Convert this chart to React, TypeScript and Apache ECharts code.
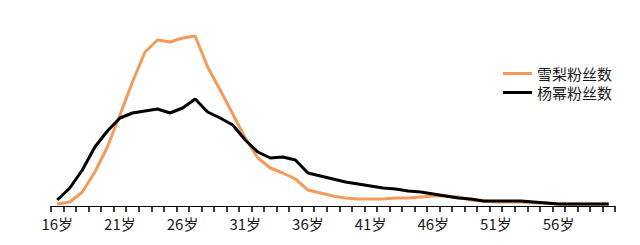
import React, { useEffect, useRef } from "react";
import * as echarts from "echarts";

const ages: string[] = [];
for (let a = 16; a <= 60; a++) ages.push(a + "岁");

const seriesNames = ["雪梨粉丝数", "杨幂粉丝数"];

const xueliFans = [
  0.2, 0.4, 1.4, 3.4, 5.9, 9.1, 12.4, 15.4, 16.6, 16.4,
  16.8, 17.0, 13.9, 11.6, 9.2, 6.8, 4.8, 3.8, 3.3, 2.7,
  1.6, 1.3, 1.0, 0.8, 0.7, 0.7, 0.7, 0.8, 0.8, 0.9,
  1.0, 1.0, 0.9, 0.6, 0.5, 0.4, 0.4, 0.4, 0.3, 0.3,
  0.2, 0.2, 0.2, 0.2, 0.2,
];

const yangmiFans = [
  0.6, 1.8, 3.6, 5.9, 7.5, 8.8, 9.3, 9.5, 9.7, 9.3,
  9.8, 10.7, 9.4, 8.8, 8.1, 6.6, 5.4, 4.8, 4.9, 4.6,
  3.3, 3.0, 2.7, 2.4, 2.2, 2.0, 1.8, 1.7, 1.5, 1.4,
  1.2, 1.0, 0.8, 0.7, 0.5, 0.5, 0.5, 0.5, 0.4, 0.3,
  0.2, 0.2, 0.2, 0.2, 0.2,
];

const FONT = "'Noto Sans CJK SC', 'Noto Sans', sans-serif";

export default function App() {
  const ref = useRef<HTMLDivElement>(null);
  useEffect(() => {
    if (!ref.current) return;
    const chart = echarts.init(ref.current, undefined, { renderer: "svg" });
    chart.setOption({
      animation: false,
      backgroundColor: "#ffffff",
      grid: { left: 51, right: 25, top: 26, bottom: 39 },
      legend: {
        orient: "vertical",
        left: 498,
        top: 61,
        icon: "rect",
        itemWidth: 29,
        itemHeight: 3,
        itemGap: 4,
        textStyle: {
          fontSize: 15,
          lineHeight: 15,
          color: "#1a1a1a",
          fontFamily: FONT,
        },
        data: seriesNames,
      },
      xAxis: {
        type: "category",
        data: ages,
        boundaryGap: true,
        axisLine: { show: true, lineStyle: { color: "#000", width: 1.2 } },
        axisTick: {
          show: true,
          interval: 0,
          length: 6,
          lineStyle: { color: "#000", width: 1.5 },
        },
        axisLabel: {
          interval: 4,
          margin: 10,
          fontSize: 15,
          color: "#1a1a1a",
          fontFamily: FONT,
        },
        splitLine: { show: false },
      },
      yAxis: {
        type: "value",
        min: 0,
        max: 18,
        show: false,
        splitLine: { show: false },
      },
      series: [
        {
          name: seriesNames[0],
          type: "line",
          data: xueliFans,
          symbol: "none",
          lineStyle: { color: "#F29B5A", width: 3 },
          itemStyle: { color: "#F29B5A" },
        },
        {
          name: seriesNames[1],
          type: "line",
          data: yangmiFans,
          symbol: "none",
          lineStyle: { color: "#000000", width: 3 },
          itemStyle: { color: "#000000" },
        },
      ],
    });
    return () => chart.dispose();
  }, []);
  return <div ref={ref} style={{ width: 640, height: 245, margin: -8 }} />;
}
